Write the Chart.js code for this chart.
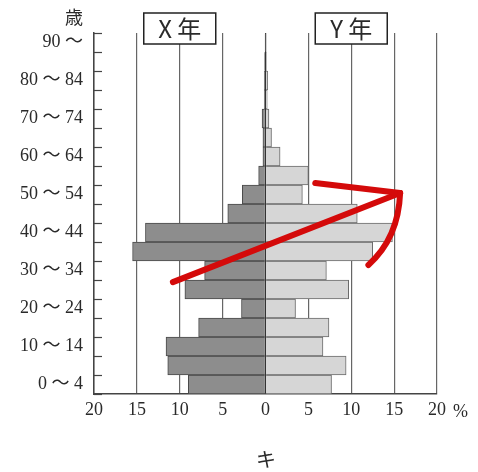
<!DOCTYPE html>
<html>
<head>
<meta charset="utf-8">
<script src="https://cdn.jsdelivr.net/npm/chart.js@4"></script>
<style>
  html, body { margin: 0; padding: 0; background: #fff; }
  #wrap { width: 478px; height: 472px; }
</style>
</head>
<body>
<div id="wrap"><canvas id="pyramid" width="478" height="472"></canvas></div>
<script>
// age groups, bottom to top
var ages = ['0 ～ 4', '5 ～ 9', '10 ～ 14', '15 ～ 19', '20 ～ 24', '25 ～ 29', '30 ～ 34',
    '35 ～ 39', '40 ～ 44', '45 ～ 49', '50 ～ 54', '55 ～ 59', '60 ～ 64', '65 ～ 69',
    '70 ～ 74', '75 ～ 79', '80 ～ 84', '85 ～ 89', '90 ～'];
// share of population (%)
var yearX = [9.0, 11.4, 11.6, 7.8, 2.8, 9.4, 7.1, 15.5, 14.0, 4.4, 2.7, 0.8, 0.3, 0.3, 0.4, 0.15, 0.15, 0.1, 0.05];
var yearY = [7.7, 9.4, 6.7, 7.4, 3.5, 9.7, 7.1, 12.5, 14.8, 10.7, 4.3, 5.0, 1.7, 0.7, 0.4, 0.2, 0.25, 0.1, 0.05];
var xTicks = [-20, -15, -10, -5, 0, 5, 10, 15, 20];

// hand drawn red arrow, in chart units (x = %, y = age group index)
var arrowLong = [[-10.8, 5.39], [15.7, 10.08]];
var arrowTop = [[5.8, 10.6], [15.7, 10.08]];
var arrowCurve = [[15.7, 10.08], [15.5, 7.7], [12.0, 6.29]];

var serif = "'Liberation Serif', 'Noto Sans CJK JP', serif";
var textColor = '#2a2a2a';

var extras = {
    id: 'extras',
    afterDraw: function (chart) {
        var ctx = chart.ctx;
        var xs = chart.scales.x, ys = chart.scales.y;
        var area = chart.chartArea;
        ctx.save();

        // small ticks on the inside of the age axis
        ctx.strokeStyle = '#444';
        ctx.lineWidth = 1.2;
        for (var i = 0; i <= ages.length; i++) {
            var ty = Math.round(ys.getPixelForValue(i - 0.5)) + 0.5;
            ctx.beginPath();
            ctx.moveTo(area.left, ty);
            ctx.lineTo(area.left + 8, ty);
            ctx.stroke();
        }

        ctx.fillStyle = textColor;
        ctx.font = '18px ' + serif;
        ctx.textAlign = 'left';
        ctx.textBaseline = 'middle';
        ctx.fillText('%', xs.getPixelForValue(20) + 16, 412);

        ctx.textAlign = 'center';
        ctx.fillText('歳', 74, 19);

        ctx.font = "20px 'Noto Sans CJK JP', sans-serif";
        ctx.fillText('キ', (area.left + area.right) / 2 + 0.5, 459);

        // year boxes
        [['X 年', -10], ['Y 年', 10]].forEach(function (b) {
            var cx = xs.getPixelForValue(b[1]);
            ctx.fillStyle = '#fff';
            ctx.fillRect(cx - 36, 13, 72, 31);
            ctx.strokeStyle = '#222';
            ctx.lineWidth = 1.5;
            ctx.strokeRect(cx - 36, 13, 72, 31);
            ctx.fillStyle = textColor;
            ctx.font = "24px 'Noto Sans CJK JP', sans-serif";
            ctx.fillText(b[0], cx, 29);
        });

        // red arrow
        function pt(p) { return [xs.getPixelForValue(p[0]), ys.getPixelForValue(p[1])]; }
        ctx.strokeStyle = '#d40a0a';
        ctx.lineWidth = 6;
        ctx.lineCap = 'round';
        ctx.lineJoin = 'round';
        [arrowLong, arrowTop].forEach(function (seg) {
            var a = pt(seg[0]), b = pt(seg[1]);
            ctx.beginPath();
            ctx.moveTo(a[0], a[1]);
            ctx.lineTo(b[0], b[1]);
            ctx.stroke();
        });
        var c0 = pt(arrowCurve[0]), c1 = pt(arrowCurve[1]), c2 = pt(arrowCurve[2]);
        ctx.beginPath();
        ctx.moveTo(c0[0], c0[1]);
        ctx.quadraticCurveTo(c1[0], c1[1], c2[0], c2[1]);
        ctx.stroke();

        ctx.restore();
    }
};

var ctx = document.getElementById('pyramid').getContext('2d');
var pyramid = new Chart(ctx, {
    type: 'bar',
    data: {
        labels: ages,
        datasets: [{
            label: 'X年',
            data: yearX.map(function (v) { return -v; }),
            backgroundColor: '#8d8d8d',
            borderColor: '#4a4a4a',
            borderWidth: 1,
            barPercentage: 1,
            categoryPercentage: 1
        }, {
            label: 'Y年',
            data: yearY,
            backgroundColor: '#d6d6d6',
            borderColor: '#6a6a6a',
            borderWidth: 1,
            barPercentage: 1,
            categoryPercentage: 1
        }]
    },
    options: {
        indexAxis: 'y',
        responsive: false,
        animation: false,
        layout: { padding: { top: 33, right: 41, left: 0, bottom: 0 } },
        plugins: {
            legend: { display: false },
            tooltip: { enabled: false }
        },
        scales: {
            x: {
                stacked: true,
                min: -20,
                max: 20,
                afterBuildTicks: function (scale) {
                    scale.ticks = xTicks.map(function (v) { return { value: v }; });
                },
                afterFit: function (scale) { scale.height = 78; },
                ticks: {
                    callback: function (v) { return Math.abs(v); },
                    maxRotation: 0,
                    padding: 5,
                    color: textColor,
                    font: { family: serif, size: 18 }
                },
                grid: {
                    drawTicks: false,
                    color: function (c) { return c.tick && c.tick.value === 0 ? '#333' : '#666'; },
                    lineWidth: 1.2
                },
                border: { display: true, color: '#444', width: 1.5 }
            },
            y: {
                stacked: true,
                reverse: true,
                afterFit: function (scale) { scale.width = 94; },
                ticks: {
                    autoSkip: false,
                    padding: 11,
                    color: textColor,
                    font: { family: serif, size: 18 },
                    callback: function (v, i) { return i % 2 === 0 ? ages[i] : ''; }
                },
                grid: { display: false, drawTicks: false },
                border: { display: true, color: '#444', width: 1.5 }
            }
        }
    },
    plugins: [extras]
});
</script>
</body>
</html>
